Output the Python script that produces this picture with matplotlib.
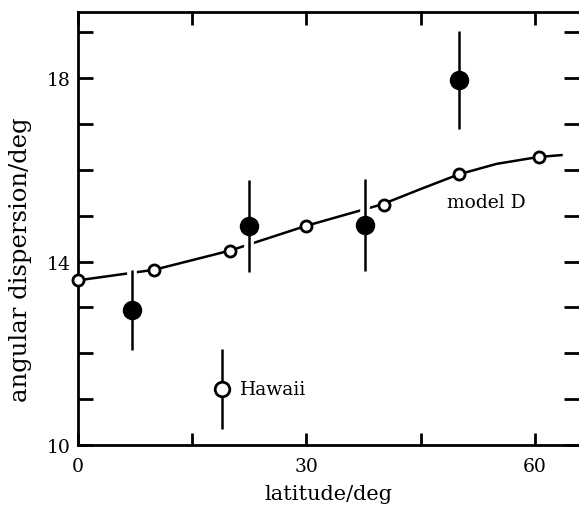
"""
Angular dispersion vs latitude, observed sites against model D.
"""
import matplotlib
matplotlib.use('Agg')
import matplotlib.pyplot as plt
import matplotlib.patheffects as pe

# model D curve (open circles) and a few extra points
model_x = [0, 10, 20, 30, 40, 45, 50, 55, 60.5, 63.5]
model_y = [13.59, 13.82, 14.24, 14.78, 15.25, 15.58, 15.9, 16.13, 16.28, 16.32]
model_marker_x = [0, 10, 20, 30, 40.2, 50, 60.5]
model_marker_y = [13.59, 13.82, 14.24, 14.78, 15.24, 15.9, 16.28]

# observed sites (filled circles) with error bars
obs_lat = [7.1, 22.4, 37.7, 50.0]
obs_disp = [12.95, 14.77, 14.8, 17.95]
obs_err = [0.87, 1.0, 1.0, 1.07]

# Hawaii (open circle)
hawaii_lat = [18.9]
hawaii_disp = [11.22]
hawaii_err = [0.87]

plt.rcParams['font.family'] = 'DejaVu Serif'

fig = plt.figure(figsize=(5.79, 5.06), dpi=100)
ax = fig.add_axes([78 / 579, 1 - 446 / 506, 1 - 78 / 579, (446 - 13) / 506])

white = [pe.withStroke(linewidth=7, foreground='white')]

ax.plot(model_x, model_y, color='black', lw=1.8, zorder=2)
ax.plot(model_marker_x, model_marker_y, 'o', ms=8, mfc='white', mec='black',
        mew=2.0, zorder=3, clip_on=False)

for x, y, e in zip(obs_lat, obs_disp, obs_err):
    ax.plot([x, x], [y - e, y + e], color='black', lw=1.8, zorder=4,
            solid_capstyle='butt', path_effects=white)
ax.plot(obs_lat, obs_disp, 'o', ms=13, color='black', zorder=5)

for x, y, e in zip(hawaii_lat, hawaii_disp, hawaii_err):
    ax.plot([x, x], [y - e, y + e], color='black', lw=1.8, zorder=4,
            solid_capstyle='butt')
ax.plot(hawaii_lat, hawaii_disp, 'o', ms=10.5, mfc='white', mec='black',
        mew=2.0, zorder=5)

ax.text(21.3, hawaii_disp[0], 'Hawaii', fontsize=13.5, va='center', ha='left')
ax.text(53.6, 15.29, 'model D', fontsize=13.5, va='center', ha='center')

ax.set_xlim(0, 65.8)
ax.set_ylim(10, 19.44)
ax.set_xticks([0, 15, 30, 45, 60])
ax.set_xticklabels(['0', '', '30', '', '60'])
ax.set_yticks([10, 11, 12, 13, 14, 15, 16, 17, 18, 19])
ax.set_yticklabels(['10', '', '', '', '14', '', '', '', '18', ''])
ax.tick_params(axis='both', direction='in', top=True, right=True,
               width=2.0, labelsize=13.5)
ax.tick_params(axis='x', length=9, pad=9)
ax.tick_params(axis='y', length=11, pad=5)
for s in ax.spines.values():
    s.set_linewidth(2.0)
ax.spines['right'].set_visible(False)

ax.set_xlabel('latitude/deg', fontsize=15)
ax.set_ylabel('angular dispersion/deg', fontsize=17.5)
ax.xaxis.set_label_coords(0.499, -0.09)
ax.yaxis.set_label_coords(-0.092, 0.43)

fig.savefig('out.png', dpi=100)
